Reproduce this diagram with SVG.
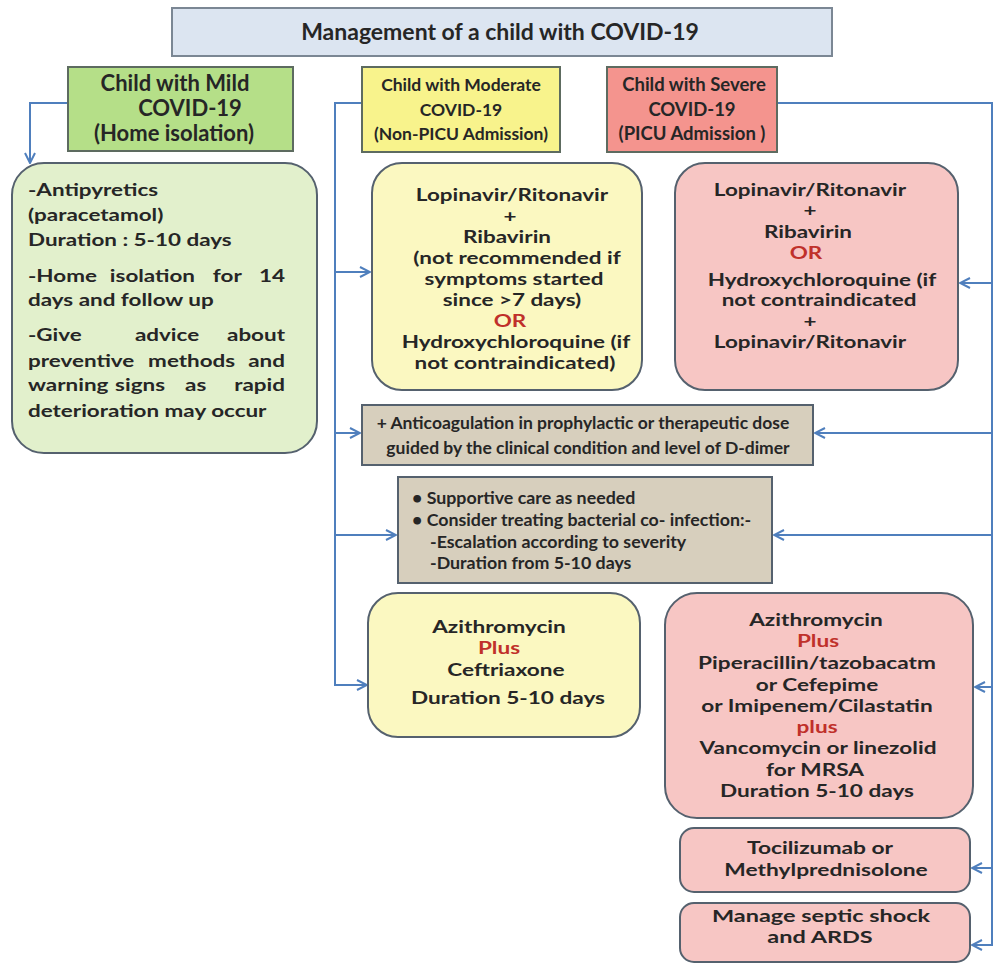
<svg xmlns="http://www.w3.org/2000/svg" width="995" height="965" viewBox="0 0 995 965">
<style>
text{font-family:Lato,"Liberation Sans",sans-serif;font-weight:bold;fill:#262626}
.s{font-size:17px;text-anchor:middle}
.g{font-size:17px}
.l{font-size:17.5px}
.c{text-anchor:middle}
.r{fill:#c0302a}
.hdr{stroke:#5d6b60;stroke-width:2}
.box{stroke:#55616e;stroke-width:2}
.conn{fill:none;stroke:#4f7fbd;stroke-width:2}
</style>
<defs>
<marker id="arr" viewBox="0 0 12 12" refX="11" refY="6" markerWidth="12" markerHeight="12" markerUnits="userSpaceOnUse" orient="auto">
<path d="M1,1 L11,6 L1,11" fill="none" stroke="#4f7fbd" stroke-width="2"/>
</marker>
</defs>
<rect width="995" height="965" fill="#ffffff"/>

<g id="connectors">
<path class="conn" d="M68,103 H30 V163" marker-end="url(#arr)"/>
<path class="conn" d="M362,103 H335 V685 H367" marker-end="url(#arr)"/>
<path class="conn" d="M335,272 H370" marker-end="url(#arr)"/>
<path class="conn" d="M335,433 H360" marker-end="url(#arr)"/>
<path class="conn" d="M335,535 H396" marker-end="url(#arr)"/>
<path class="conn" d="M777,103 H992 V945 H972" marker-end="url(#arr)"/>
<path class="conn" d="M992,283 H960" marker-end="url(#arr)"/>
<path class="conn" d="M992,433 H815" marker-end="url(#arr)"/>
<path class="conn" d="M992,535 H774" marker-end="url(#arr)"/>
<path class="conn" d="M992,687 H975" marker-end="url(#arr)"/>
<path class="conn" d="M992,868 H972" marker-end="url(#arr)"/>
</g>

<g id="title">
<rect x="172" y="8" width="660" height="48" fill="#dce5f1" stroke="#7b8794" stroke-width="2"/>
<text x="500" y="40" class="c" font-size="23">Management of a child with COVID-19</text>
</g>

<g id="mild-header">
<rect class="hdr" x="68" y="67" width="225" height="84" fill="#b5df88"/>
<text class="c" font-size="22" x="175" y="91">Child with Mild</text>
<text class="c" font-size="22" x="190" y="116">COVID-19</text>
<text class="c" font-size="22" x="174" y="141">(Home isolation)</text>
</g>

<g id="moderate-header">
<rect class="hdr" x="362" y="67" width="198" height="85" fill="#f8f38c"/>
<text class="l c" x="461" y="91">Child with Moderate</text>
<text class="l c" x="461" y="116">COVID-19</text>
<text class="l c" x="461" y="140">(Non-PICU Admission)</text>
</g>

<g id="severe-header">
<rect class="hdr" x="607" y="67" width="170" height="85" fill="#f4948e"/>
<text class="c" font-size="18.5" x="694" y="91">Child with Severe</text>
<text class="c" font-size="18.5" x="692" y="116">COVID-19</text>
<text class="c" font-size="18.5" x="692" y="140">(PICU Admission )</text>
</g>

<g id="mild-care">
<rect class="box" x="12" y="163" width="305" height="290" rx="32" fill="#e2f0cc"/>
<text class="g" transform="translate(28 196) scale(1.32 1)">-Antipyretics</text>
<text class="g" transform="translate(28 221) scale(1.32 1)">(paracetamol)</text>
<text class="g" transform="translate(28 246) scale(1.32 1)">Duration : 5-10 days</text>
<text class="g" transform="translate(28 282) scale(1.32 1)"><tspan x="0">-Home</tspan><tspan x="62">isolation</tspan><tspan x="140">for</tspan><tspan x="194.7" text-anchor="end">14</tspan></text>
<text class="g" transform="translate(28 306) scale(1.32 1)">days and follow up</text>
<text class="g" transform="translate(28 341) scale(1.32 1)"><tspan x="0">-Give</tspan><tspan x="81">advice</tspan><tspan x="194.7" text-anchor="end">about</tspan></text>
<text class="g" transform="translate(28 367) scale(1.32 1)"><tspan x="0">preventive</tspan><tspan x="91">methods</tspan><tspan x="194.7" text-anchor="end">and</tspan></text>
<text class="g" transform="translate(28 391) scale(1.32 1)"><tspan x="0">warning</tspan><tspan x="66">signs</tspan><tspan x="119">as</tspan><tspan x="194.7" text-anchor="end">rapid</tspan></text>
<text class="g" transform="translate(28 417) scale(1.32 1)">deterioration may occur</text>
</g>

<g id="moderate-antivirals">
<rect class="box" x="372" y="163" width="270" height="227" rx="30" fill="#fbf8c1"/>
<text class="s" transform="translate(512 201) scale(1.32 1)">Lopinavir/Ritonavir</text>
<text class="s" transform="translate(510 222) scale(1.32 1)">+</text>
<text class="s" transform="translate(507 243) scale(1.32 1)">Ribavirin</text>
<text class="s" transform="translate(517 264) scale(1.32 1)">(not recommended if</text>
<text class="s" transform="translate(514 285) scale(1.32 1)">symptoms started</text>
<text class="s" transform="translate(512 306) scale(1.32 1)">since &gt;7 days)</text>
<text class="s r" transform="translate(510 327) scale(1.32 1)">OR</text>
<text class="s" transform="translate(516 348) scale(1.32 1)">Hydroxychloroquine (if</text>
<text class="s" transform="translate(515 369) scale(1.32 1)">not contraindicated)</text>
</g>

<g id="severe-antivirals">
<rect class="box" x="675" y="163" width="283" height="227" rx="30" fill="#f7c6c4"/>
<text class="s" transform="translate(810 196) scale(1.32 1)">Lopinavir/Ritonavir</text>
<text class="s" font-size="14" transform="translate(810 216) scale(1.32 1)">+</text>
<text class="s" transform="translate(808 238) scale(1.32 1)">Ribavirin</text>
<text class="s r" transform="translate(806 259) scale(1.32 1)">OR</text>
<text class="s" transform="translate(822 286) scale(1.32 1)">Hydroxychloroquine (if</text>
<text class="s" transform="translate(819 306) scale(1.32 1)">not contraindicated</text>
<text class="s" font-size="14" transform="translate(810 327) scale(1.32 1)">+</text>
<text class="s" transform="translate(810 348) scale(1.32 1)">Lopinavir/Ritonavir</text>
</g>

<g id="anticoagulation">
<rect class="box" x="362" y="405" width="451" height="60" fill="#d7cfbd"/>
<text class="l c" x="583" y="429">+ Anticoagulation in prophylactic or therapeutic dose</text>
<text class="l c" x="588" y="454">guided by the clinical condition and level of D-dimer</text>
</g>

<g id="supportive-care">
<rect class="box" x="398" y="477" width="374" height="106" fill="#d7cfbd"/>
<text font-size="17.8" x="412" y="504">• Supportive care as needed</text>
<text font-size="17.8" x="412" y="526">• Consider  treating bacterial co- infection:-</text>
<text font-size="17.8" x="430" y="548">-Escalation according to severity</text>
<text font-size="17.8" x="430" y="569">-Duration from 5-10 days</text>
</g>

<g id="moderate-antibiotics">
<rect class="box" x="368" y="593" width="272" height="144" rx="30" fill="#fbf8c1"/>
<text class="s" transform="translate(499 633) scale(1.33 1)">Azithromycin</text>
<text class="s r" transform="translate(499 654) scale(1.33 1)">Plus</text>
<text class="s" transform="translate(506 676) scale(1.33 1)">Ceftriaxone</text>
<text class="s" transform="translate(508 704) scale(1.33 1)">Duration 5-10 days</text>
</g>

<g id="severe-antibiotics">
<rect class="box" x="665" y="593" width="308" height="225" rx="32" fill="#f7c6c4"/>
<text class="s" transform="translate(816 626) scale(1.33 1)">Azithromycin</text>
<text class="s r" transform="translate(818 647) scale(1.33 1)">Plus</text>
<text class="s" transform="translate(817 669) scale(1.33 1)">Piperacillin/tazobacatm</text>
<text class="s" transform="translate(817 691) scale(1.33 1)">or Cefepime</text>
<text class="s" transform="translate(817 712) scale(1.33 1)">or Imipenem/Cilastatin</text>
<text class="s r" transform="translate(817 733) scale(1.33 1)">plus</text>
<text class="s" transform="translate(818 754) scale(1.33 1)">Vancomycin or linezolid</text>
<text class="s" transform="translate(815 776) scale(1.33 1)">for MRSA</text>
<text class="s" transform="translate(817 797) scale(1.33 1)">Duration 5-10 days</text>
</g>

<g id="tocilizumab">
<rect class="box" x="680" y="828" width="290" height="64" rx="14" fill="#f7c6c4"/>
<text class="s" transform="translate(820 854) scale(1.34 1)">Tocilizumab or</text>
<text class="s" transform="translate(826 876) scale(1.34 1)">Methylprednisolone</text>
</g>

<g id="septic-shock">
<rect class="box" x="680" y="903" width="290" height="59" rx="14" fill="#f7c6c4"/>
<text class="s" transform="translate(821 922) scale(1.38 1)">Manage septic shock</text>
<text class="s" transform="translate(820 943) scale(1.38 1)">and ARDS</text>
</g>
</svg>
